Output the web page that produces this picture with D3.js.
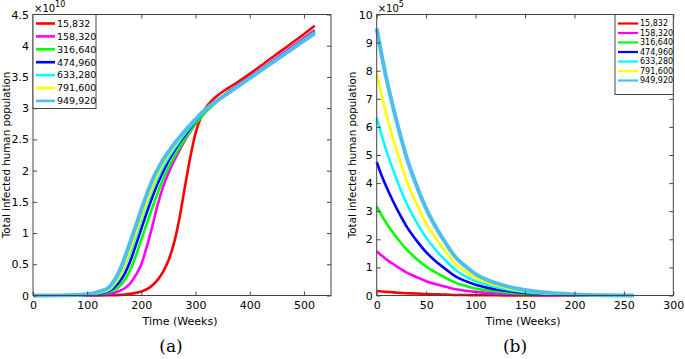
<!DOCTYPE html>
<html>
<head>
<meta charset="utf-8">
<script src="https://cdn.jsdelivr.net/npm/d3@7"></script>
<style>
  body { margin: 0; background: #fff; }
  svg { display: block; }
  .tick text { font-family: "DejaVu Sans", sans-serif; font-size: 11px; fill: #000; }
  .tick line { stroke: #444; }
</style>
</head>
<body>
<div id="chart"></div>
<script>
// legend entries (initial infected humans)
const labels = ['15,832', '158,320', '316,640', '474,960', '633,280', '791,600', '949,920']
const colors = ['#ff0000', '#ff00ff', '#00ff00', '#0000ff', '#00ffff', '#ffff00', '#4dbeee']

// panel (a): time in weeks, values in 1e10
const timeA = [0, 50, 100, 125, 140, 150, 160, 170, 180, 190, 200, 210, 220, 230, 240, 250, 260, 270, 280, 290, 300, 310, 320, 330, 340, 360, 380, 400, 430, 460, 490, 520]
const a15832 = [0, 0, 0, 0.002, 0.004, 0.006, 0.01, 0.017, 0.027, 0.042, 0.065, 0.1, 0.16, 0.25, 0.38, 0.56, 0.83, 1.22, 1.72, 2.2, 2.6, 2.86, 3.02, 3.12, 3.2, 3.32, 3.43, 3.55, 3.74, 3.93, 4.12, 4.32]
const a158320 = [0, 0, 0.005, 0.014, 0.027, 0.045, 0.075, 0.12, 0.2, 0.33, 0.5, 0.78, 1.1, 1.45, 1.74, 1.96, 2.15, 2.32, 2.48, 2.62, 2.75, 2.86, 2.96, 3.04, 3.12, 3.26, 3.38, 3.5, 3.68, 3.87, 4.06, 4.25]
const a316640 = [0, 0.0008, 0.008, 0.028, 0.055, 0.09, 0.15, 0.26, 0.42, 0.64, 0.9, 1.15, 1.4, 1.64, 1.86, 2.05, 2.21, 2.36, 2.5, 2.63, 2.75, 2.85, 2.95, 3.03, 3.11, 3.25, 3.37, 3.49, 3.67, 3.85, 4.04, 4.23]
const a474960 = [0, 0.001, 0.01, 0.035, 0.07, 0.13, 0.22, 0.36, 0.56, 0.81, 1.07, 1.33, 1.57, 1.79, 1.98, 2.15, 2.3, 2.44, 2.56, 2.68, 2.79, 2.89, 2.98, 3.05, 3.12, 3.25, 3.37, 3.49, 3.67, 3.85, 4.03, 4.22]
const a633280 = [0, 0.0012, 0.012, 0.045, 0.085, 0.17, 0.3, 0.48, 0.7, 0.95, 1.2, 1.45, 1.68, 1.88, 2.06, 2.21, 2.34, 2.47, 2.59, 2.7, 2.8, 2.89, 2.98, 3.05, 3.12, 3.24, 3.36, 3.48, 3.66, 3.84, 4.03, 4.21]
const a791600 = [0, 0.0015, 0.015, 0.055, 0.1, 0.19, 0.32, 0.51, 0.75, 1.0, 1.25, 1.5, 1.73, 1.94, 2.11, 2.25, 2.38, 2.5, 2.61, 2.71, 2.81, 2.9, 2.98, 3.05, 3.12, 3.24, 3.36, 3.48, 3.66, 3.84, 4.02, 4.2]
const a949920 = [0, 0.002, 0.02, 0.07, 0.13, 0.24, 0.4, 0.62, 0.87, 1.12, 1.38, 1.62, 1.84, 2.02, 2.17, 2.3, 2.42, 2.53, 2.63, 2.73, 2.82, 2.91, 2.99, 3.06, 3.12, 3.24, 3.36, 3.48, 3.66, 3.84, 4.02, 4.2]

// panel (b): time in weeks, values in 1e5
const timeB = [0, 5, 10, 15, 20, 25, 30, 40, 50, 60, 70, 80, 90, 100, 120, 140, 160, 180, 200, 230, 260]
const b15832 = [0.16, 0.14, 0.13, 0.12, 0.1, 0.09, 0.08, 0.07, 0.05, 0.04, 0.03, 0.02, 0.02, 0.01, 0.01, 0, 0, 0, 0, 0, 0]
const b158320 = [1.58, 1.42, 1.28, 1.16, 1.04, 0.93, 0.82, 0.66, 0.51, 0.4, 0.31, 0.22, 0.17, 0.13, 0.07, 0.04, 0.02, 0.01, 0.01, 0, 0]
const b316640 = [3.17, 2.85, 2.56, 2.31, 2.07, 1.85, 1.65, 1.31, 1.03, 0.81, 0.62, 0.45, 0.34, 0.25, 0.15, 0.09, 0.05, 0.03, 0.01, 0, 0]
const b474960 = [4.75, 4.27, 3.85, 3.47, 3.11, 2.78, 2.47, 1.97, 1.54, 1.21, 0.93, 0.67, 0.51, 0.38, 0.22, 0.13, 0.07, 0.04, 0.02, 0, 0]
const b633280 = [6.33, 5.7, 5.13, 4.62, 4.15, 3.7, 3.29, 2.63, 2.06, 1.61, 1.23, 0.9, 0.68, 0.51, 0.3, 0.17, 0.09, 0.05, 0.03, 0.01, 0]
const b791600 = [7.92, 7.12, 6.41, 5.78, 5.19, 4.63, 4.12, 3.29, 2.57, 2.02, 1.54, 1.12, 0.85, 0.63, 0.37, 0.21, 0.12, 0.06, 0.03, 0.01, 0]
const b949920 = [9.5, 8.55, 7.69, 6.93, 6.22, 5.56, 4.94, 3.94, 3.09, 2.42, 1.85, 1.35, 1.03, 0.76, 0.45, 0.26, 0.14, 0.08, 0.04, 0.01, 0]

const seriesA = [a15832, a158320, a316640, a474960, a633280, a791600, a949920]
const seriesB = [b15832, b158320, b316640, b474960, b633280, b791600, b949920]

const W = 685, H = 359
const axisColor = '#444'

const svg = d3.select('#chart')
  .append('svg')
  .attr('width', W)
  .attr('height', H)

const drawPanel = (p) => {
  const x = d3.scaleLinear().domain(p.xDomain).range([p.left, p.right])
  const y = d3.scaleLinear().domain(p.yDomain).range([p.bottom, p.top])
  const g = svg.append('g')

  // lines, first entry at the bottom
  const line = d3.line()
    .x(d => x(d[0]))
    .y(d => y(d[1]))
    .curve(d3.curveMonotoneX)
  p.series.forEach((vals, i) => {
    g.append('path')
      .datum(p.time.map((t, j) => [t, vals[j]]))
      .attr('d', line)
      .attr('fill', 'none')
      .attr('stroke', colors[i])
      .attr('stroke-width', i === 6 ? 4 : 2.6)
      .attr('stroke-linejoin', 'round')
  })

  // axes with ticks pointing inwards (box style)
  g.append('g')
    .attr('transform', 'translate(0,' + p.bottom + ')')
    .call(d3.axisBottom(x).tickValues(p.xTicks).tickSize(-4).tickSizeOuter(0).tickPadding(6))
    .call(a => a.select('.domain').remove())
  g.append('g')
    .attr('transform', 'translate(0,' + p.top + ')')
    .call(d3.axisTop(x).tickValues(p.xTicks).tickSize(-4).tickSizeOuter(0).tickFormat(''))
    .call(a => a.select('.domain').remove())
  g.append('g')
    .attr('transform', 'translate(' + p.left + ',0)')
    .call(d3.axisLeft(y).tickValues(p.yTicks).tickSize(-4).tickSizeOuter(0).tickPadding(4).tickFormat(d3.format('~g')))
    .call(a => a.select('.domain').remove())
  g.append('g')
    .attr('transform', 'translate(' + p.right + ',0)')
    .call(d3.axisRight(y).tickValues(p.yTicks).tickSize(-4).tickSizeOuter(0).tickFormat(''))
    .call(a => a.select('.domain').remove())

  g.append('rect')
    .attr('x', p.left)
    .attr('y', p.top)
    .attr('width', p.right - p.left)
    .attr('height', p.bottom - p.top)
    .attr('fill', 'none')
    .attr('stroke', axisColor)
    .attr('stroke-width', 1)

  // exponent
  const ex = g.append('text')
    .attr('x', p.left + 1)
    .attr('y', p.top - 3)
    .attr('font-family', 'DejaVu Sans, sans-serif')
    .attr('font-size', 10)
    .attr('fill', '#000')
  ex.append('tspan').text('×10')
  ex.append('tspan').attr('dy', -5).attr('font-size', 8).text(p.exponent)

  // axis titles
  g.append('text')
    .attr('x', (p.left + p.right) / 2 - 2)
    .attr('y', 325)
    .attr('text-anchor', 'middle')
    .attr('font-family', 'DejaVu Sans, sans-serif')
    .attr('font-size', 11)
    .attr('fill', '#000')
    .text('Time (Weeks)')
  g.append('text')
    .attr('transform', 'translate(' + p.yLabelX + ',' + (p.top + p.bottom) / 2 + ') rotate(-90)')
    .attr('text-anchor', 'middle')
    .attr('font-family', 'DejaVu Sans, sans-serif')
    .attr('font-size', 10.3)
    .attr('fill', '#000')
    .text('Total infected human population')

  // caption
  g.append('text')
    .attr('x', p.captionX)
    .attr('y', 352)
    .attr('text-anchor', 'middle')
    .attr('font-family', 'DejaVu Serif, serif')
    .attr('font-size', 17)
    .attr('fill', '#000')
    .text(p.caption)

  // legend
  const lg = p.legend
  const leg = g.append('g')
  leg.append('rect')
    .attr('x', lg.x)
    .attr('y', lg.y)
    .attr('width', lg.w)
    .attr('height', lg.h)
    .attr('fill', '#fff')
    .attr('stroke', axisColor)
  labels.forEach((lab, i) => {
    const yy = lg.y + lg.first + i * lg.step
    leg.append('line')
      .attr('x1', lg.x + 3)
      .attr('x2', lg.x + 3 + lg.lineLen)
      .attr('y1', yy)
      .attr('y2', yy)
      .attr('stroke', colors[i])
      .attr('stroke-width', lg.lw)
    leg.append('text')
      .attr('x', lg.x + 5 + lg.lineLen)
      .attr('y', yy)
      .attr('dy', '0.35em')
      .attr('font-family', 'DejaVu Sans, sans-serif')
      .attr('font-size', lg.fs)
      .attr('fill', '#000')
      .text(lab)
  })
}

drawPanel({
  left: 33, right: 331, top: 14.5, bottom: 295.5,
  xDomain: [0, 550], yDomain: [0, 4.5],
  xTicks: [0, 100, 200, 300, 400, 500],
  yTicks: [0, 0.5, 1, 1.5, 2, 2.5, 3, 3.5, 4, 4.5],
  time: timeA, series: seriesA, exponent: '10',
  yLabelX: 10, caption: '(a)', captionX: 171,
  legend: {x: 33, y: 14.5, w: 63, h: 94, first: 9, step: 12.9, lineLen: 19, lw: 2.6, fs: 9.5}
})

drawPanel({
  left: 376.7, right: 673.3, top: 14.5, bottom: 295.5,
  xDomain: [0, 300], yDomain: [0, 10],
  xTicks: [0, 50, 100, 150, 200, 250, 300],
  yTicks: d3.range(0, 11),
  time: timeB, series: seriesB, exponent: '5',
  yLabelX: 356, caption: '(b)', captionX: 515,
  legend: {x: 615, y: 14.5, w: 58.3, h: 80, first: 9, step: 9.5, lineLen: 20, lw: 2.2, fs: 8}
})
</script>
</body>
</html>
